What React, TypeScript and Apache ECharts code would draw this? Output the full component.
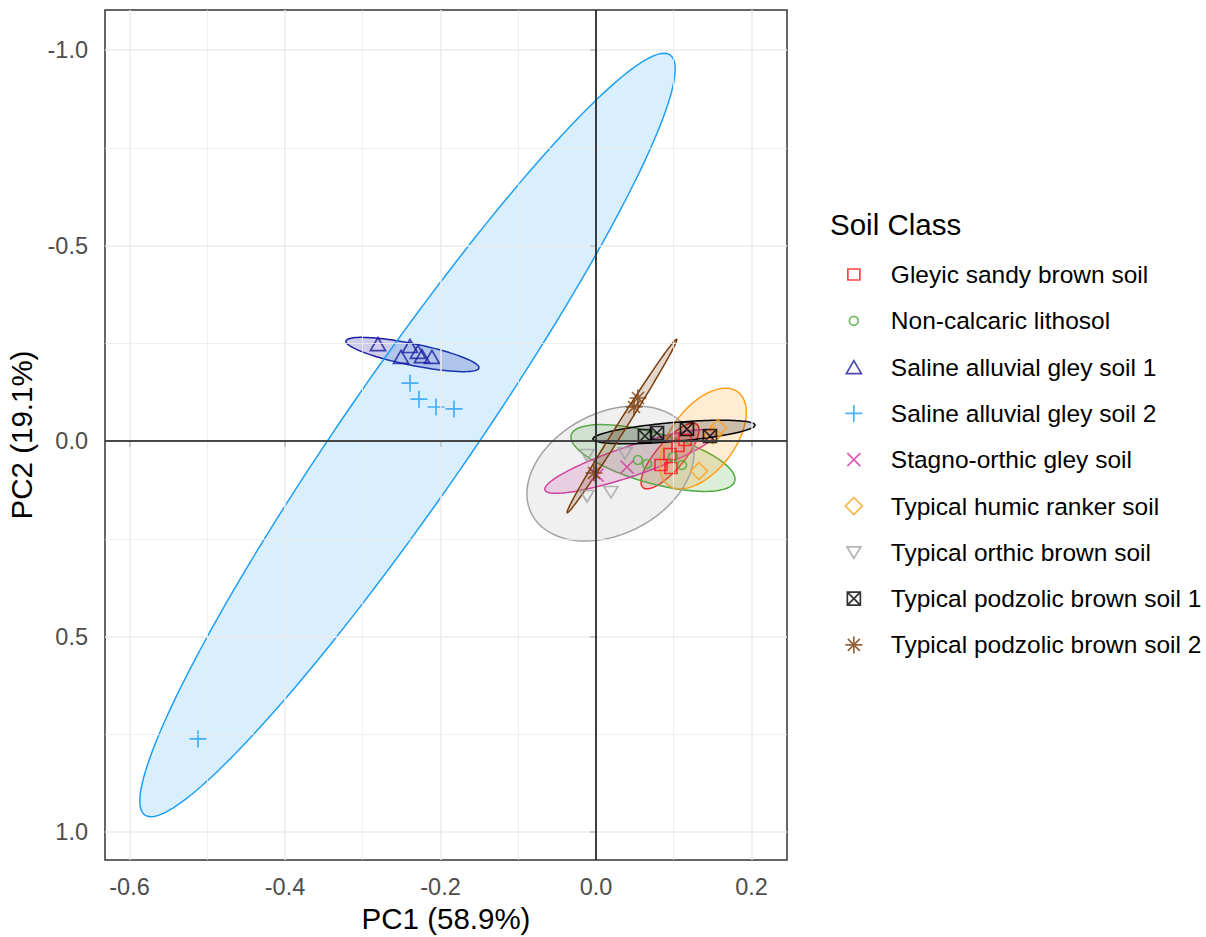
import { useEffect, useRef } from "react";
import * as echarts from "echarts";

const FONT = "'Liberation Sans', Arial, Helvetica, sans-serif";

const classNames = [
  "Gleyic sandy brown soil",
  "Non-calcaric lithosol",
  "Saline alluvial gley soil 1",
  "Saline alluvial gley soil 2",
  "Stagno-orthic gley soil",
  "Typical humic ranker soil",
  "Typical orthic brown soil",
  "Typical podzolic brown soil 1",
  "Typical podzolic brown soil 2",
];
const classColors = ["#FF1414", "#4DAA3A", "#1C1CA0", "#1F9FF5", "#D9329F", "#FFA01E", "#A3A3A3", "#000000", "#7A3D0A"];
const fillAlpha = [0.2, 0.2, 0.22, 0.17, 0.2, 0.2, 0.16, 0.2, 0.2];

// PCA scores [PC1, PC2] per soil class
const gleyicSandyBrown = [[0.0836, 0.0614], [0.0965, 0.0691], [0.0952, 0.0332], [0.1055, 0.0128], [0.1145, -0.0026]];
const nonCalcaricLithosol = [[0.054, 0.0486], [0.0656, 0.0588], [0.099, 0.0409], [0.1106, 0.0614]];
const salineAlluvial1 = [[-0.2804, -0.248], [-0.2392, -0.243], [-0.2508, -0.215], [-0.229, -0.228], [-0.2238, -0.217], [-0.211, -0.215]];
const salineAlluvial2 = [[-0.2392, -0.148], [-0.2277, -0.107], [-0.2058, -0.087], [-0.1826, -0.082], [-0.5119, 0.762]];
const stagnoOrthic = [[0.0399, 0.0665], [0.0013, 0.087]];
const humicRanker = [[0.1569, -0.0332], [0.1505, -0.0153], [0.1325, 0.0767]];
const orthicBrown = [[-0.0116, 0.0358], [0.0373, 0.0307], [-0.0116, 0.1407], [0.0193, 0.1304]];
const podzolicBrown1 = [[0.063, -0.0128], [0.0785, -0.0205], [0.117, -0.0307], [0.1466, -0.0128]];
const podzolicBrown2 = [[0.054, -0.11], [0.0489, -0.087], [-0.0026, 0.0818]];
const classPoints = [gleyicSandyBrown, nonCalcaricLithosol, salineAlluvial1, salineAlluvial2, stagnoOrthic, humicRanker, orthicBrown, podzolicBrown1, podzolicBrown2];

// Confidence ellipses: centre, and two conjugate semi-axes (PC1, PC2 units)
const ellipseCenters = [[0.0952, 0.0384], [0.0733, 0.0435], [-0.236, -0.2212], [-0.2424, -0.0153], [0.0437, 0.0524], [0.1376, -0.0064], [0.0186, 0.0831], [0.1003, -0.023], [0.0334, -0.0384]];
const ellipseAxisU = [[0.0347, -0.0806], [0.1055, 0.0537], [0.0855, 0.0345], [0.3378, -0.9721], [0.1093, -0.0729], [0.045, -0.1189], [0.1074, -0.0518], [0.1042, -0.0179], [0.0704, -0.2217]];
const ellipseAxisV = [[0.0136, 0.0233], [0, 0.0665], [-0.00277, 0.0271], [0.0666, 0.0916], [0.0061, 0.0363], [0.0329, 0.0491], [0, 0.1647], [0.00105, 0.0242], [0.0049, 0.0061]];

const xTicks = [-0.6, -0.4, -0.2, 0, 0.2];
const xMinor = [-0.5, -0.3, -0.1, 0.1];
const yTicks = [-1, -0.5, 0, 0.5, 1];
const yMinor = [-0.75, -0.25, 0.25, 0.75];

const P = "M0,0 M20,20 ";
const classSymbols = [
  P + "M4,4.5 L16,4.5 L16,15.5 L4,15.5 Z",
  P + "M14.5,10 A4.5,4.5 0 1 1 5.5,10 A4.5,4.5 0 1 1 14.5,10 Z",
  P + "M10,3.5 L17.5,16.5 L2.5,16.5 Z",
  P + "M1.5,10 L18.5,10 M10,1.5 L10,18.5",
  P + "M3.5,3.5 L16.5,16.5 M16.5,3.5 L3.5,16.5",
  P + "M10,1.5 L18.5,10 L10,18.5 L1.5,10 Z",
  P + "M3,4.5 L17,4.5 L10,16 Z",
  P + "M3.5,3.5 L16.5,3.5 L16.5,16.5 L3.5,16.5 Z M3.5,3.5 L16.5,16.5 M16.5,3.5 L3.5,16.5",
  P + "M10,1.5 L10,18.5 M1.5,10 L18.5,10 M4,4 L16,16 M16,4 L4,16",
];

function rgba(hex: string, a: number) {
  const n = parseInt(hex.slice(1), 16);
  return `rgba(${(n >> 16) & 255},${(n >> 8) & 255},${n & 255},${a})`;
}

export default function App() {
  const ref = useRef<HTMLDivElement>(null);
  useEffect(() => {
    if (!ref.current) return;
    const chart = echarts.init(ref.current, null, { renderer: "svg", width: 1206, height: 937 });
    const ellipseData = ellipseCenters.map((c, i) => [c[0], c[1], ellipseAxisU[i][0], ellipseAxisU[i][1], ellipseAxisV[i][0], ellipseAxisV[i][1], i]);
    const gridLines = [
      ...xTicks.map((v) => ({ xAxis: v, lineStyle: { width: 1.5 } })),
      ...xMinor.map((v) => ({ xAxis: v, lineStyle: { width: 0.8 } })),
      ...yTicks.map((v) => ({ yAxis: v, lineStyle: { width: 1.5 } })),
      ...yMinor.map((v) => ({ yAxis: v, lineStyle: { width: 0.8 } })),
    ];
    const option: any = {
      animation: false,
      textStyle: { fontFamily: FONT },
      title: {
        text: "Soil Class",
        left: 830,
        top: 209,
        padding: 0,
        textStyle: { fontSize: 29.5, fontWeight: "normal", color: "#000", fontFamily: FONT },
      },
      legend: {
        data: classNames,
        orient: "vertical",
        left: 843,
        top: 262,
        padding: 0,
        itemWidth: 64,
        itemHeight: 20,
        itemGap: 21.3,
        symbolKeepAspect: true,
        selectedMode: false,
        itemStyle: { borderWidth: 1.7 },
        textStyle: { fontSize: 24.5, color: "#000", fontFamily: FONT, lineHeight: 24 },
      },
      grid: {
        left: 105,
        top: 10,
        width: 682,
        height: 850,
        show: true,
        borderColor: "#333333",
        borderWidth: 1.5,
        backgroundColor: "transparent",
        outerBoundsMode: "none",
        containLabel: false,
      },
      xAxis: {
        type: "value",
        min: -0.6315,
        max: 0.2457,
        axisLine: { show: false },
        axisTick: { show: true, customValues: xTicks, length: 6, lineStyle: { color: "#333333", width: 1.5 } },
        axisLabel: {
          customValues: xTicks,
          formatter: (v: number) => v.toFixed(1),
          fontSize: 23.5,
          color: "#4D4D4D",
          margin: 15,
          fontFamily: FONT,
        },
        splitLine: { show: false },
        name: "PC1 (58.9%)",
        nameLocation: "middle",
        nameGap: 43,
        nameTextStyle: { fontSize: 29.5, color: "#000", fontFamily: FONT },
      },
      yAxis: {
        type: "value",
        inverse: true,
        min: -1.1023,
        max: 1.0716,
        axisLine: { show: false },
        axisTick: { show: true, customValues: yTicks, length: 6, lineStyle: { color: "#333333", width: 1.5 } },
        axisLabel: {
          customValues: yTicks,
          formatter: (v: number) => v.toFixed(1),
          fontSize: 23.5,
          color: "#4D4D4D",
          margin: 17,
          fontFamily: FONT,
        },
        splitLine: { show: false },
        name: "PC2 (19.1%)",
        nameLocation: "middle",
        nameGap: 62,
        nameRotate: 90,
        nameTextStyle: { fontSize: 29.5, color: "#000", fontFamily: FONT },
      },
      series: [
        {
          type: "scatter",
          name: "__grid",
          data: [],
          z: 1,
          silent: true,
          markLine: {
            silent: true,
            symbol: ["none", "none"],
            label: { show: false },
            lineStyle: { color: "#EBEBEB", type: "solid" },
            data: gridLines,
          },
        },
        {
          type: "scatter",
          name: "__zero",
          data: [],
          z: 2,
          silent: true,
          markLine: {
            silent: true,
            symbol: ["none", "none"],
            label: { show: false },
            lineStyle: { color: "#111111", width: 1.6, type: "solid" },
            data: [{ xAxis: 0 }, { yAxis: 0 }],
          },
        },
        {
          type: "custom",
          name: "__ellipses",
          data: ellipseData,
          encode: { x: 0, y: 1 },
          z: 3,
          silent: true,
          renderItem: (_params: any, api: any) => {
            const cx = api.value(0), cy = api.value(1);
            const ux = api.value(2), uy = api.value(3);
            const vx = api.value(4), vy = api.value(5);
            const k = api.value(6);
            const pts: number[][] = [];
            const N = 140;
            for (let i = 0; i < N; i++) {
              const t = (i / N) * Math.PI * 2;
              pts.push(api.coord([cx + ux * Math.cos(t) + vx * Math.sin(t), cy + uy * Math.cos(t) + vy * Math.sin(t)]));
            }
            const col = classColors[k];
            return {
              type: "polygon",
              shape: { points: pts },
              style: { fill: rgba(col, fillAlpha[k]), stroke: col, lineWidth: 1.5 },
            };
          },
        },
        ...classNames.map((name, i) => ({
          type: "scatter",
          name,
          data: classPoints[i],
          symbol: "path://" + classSymbols[i],
          symbolSize: 20,
          z: 4,
          itemStyle: { color: "rgba(0,0,0,0)", borderColor: classColors[i], borderWidth: 1.7 },
        })),
      ],
    };
    chart.setOption(option);
    return () => chart.dispose();
  }, []);
  return (
    <div
      ref={ref}
      style={{ position: "fixed", left: 0, top: 0, width: 1206, height: 937, background: "#fff" }}
    />
  );
}
